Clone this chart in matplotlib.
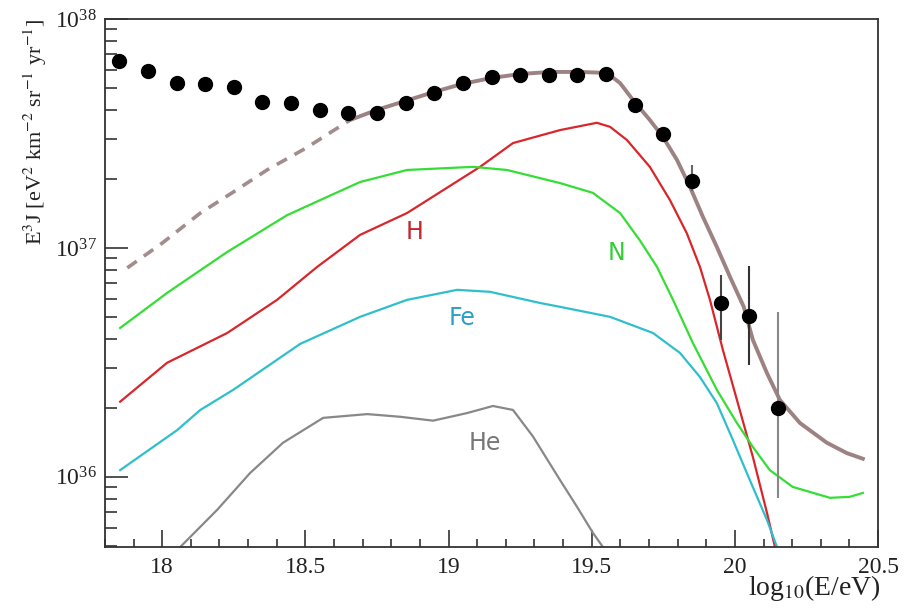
import matplotlib
matplotlib.use("Agg")
import matplotlib.pyplot as plt
import numpy as np
from matplotlib.ticker import LogLocator, NullFormatter, MultipleLocator, FixedLocator

# measured spectrum, E^3 J
data_x = [17.85, 17.95, 18.05, 18.15, 18.25, 18.35, 18.45, 18.55, 18.65, 18.75,
          18.85, 18.95, 19.05, 19.15, 19.25, 19.35, 19.45, 19.55, 19.65, 19.75,
          19.85, 19.95, 20.05, 20.15]
data_y = [6.56e37, 5.93e37, 5.26e37, 5.20e37, 5.05e37, 4.34e37, 4.30e37, 4.01e37,
          3.89e37, 3.89e37, 4.30e37, 4.75e37, 5.26e37, 5.58e37, 5.69e37, 5.69e37,
          5.69e37, 5.75e37, 4.21e37, 3.15e37, 1.96e37, 5.75e36, 5.05e36, 2.0e36]

# error bars (only the last points)
err_x = [19.85, 19.95, 20.05, 20.15]
err_lo = [1.77e37, 3.96e36, 3.08e36, 8.1e35]
err_hi = [2.30e37, 7.62e36, 8.34e36, 5.26e36]

# total model, extrapolated part (dashed)
tot_low_x = [17.878, 18.0, 18.133, 18.25, 18.366, 18.5, 18.656]
tot_low_y = [8.18e36, 1.05e37, 1.42e37, 1.76e37, 2.19e37, 2.72e37, 3.62e37]

# total model, fitted part
tot_x = [18.656, 18.75, 18.848, 18.949, 19.047, 19.148, 19.25, 19.354, 19.459,
         19.553, 19.599, 19.644, 19.703, 19.749, 19.798, 19.843, 19.888, 19.937,
         19.983, 20.031, 20.063, 20.112, 20.157, 20.227, 20.321, 20.391, 20.447]
tot_y = [3.62e37, 4.01e37, 4.38e37, 4.80e37, 5.20e37, 5.52e37, 5.75e37, 5.87e37,
         5.87e37, 5.81e37, 5.25e37, 4.43e37, 3.62e37, 3.05e37, 2.42e37, 1.85e37,
         1.37e37, 1.01e37, 7.47e36, 5.53e36, 3.96e36, 2.84e36, 2.17e36, 1.72e36,
         1.41e36, 1.27e36, 1.20e36]

# proton
h_x = [17.853, 18.017, 18.227, 18.401, 18.541, 18.691, 18.855, 19.11, 19.225,
       19.389, 19.518, 19.564, 19.623, 19.703, 19.773, 19.832, 19.878, 19.913,
       19.958, 20.017, 20.063, 20.112, 20.14, 20.17]
h_y = [2.13e36, 3.15e36, 4.25e36, 5.93e36, 8.26e36, 1.14e37, 1.42e37, 2.26e37,
       2.87e37, 3.27e37, 3.52e37, 3.38e37, 2.96e37, 2.26e37, 1.62e37, 1.16e37,
       8.26e36, 5.93e36, 3.59e36, 1.96e36, 1.22e36, 6.97e35, 4.94e35, 3.4e35]

# nitrogen
n_x = [17.853, 18.017, 18.227, 18.436, 18.576, 18.691, 18.855, 19.086, 19.204,
       19.389, 19.504, 19.599, 19.668, 19.728, 19.784, 19.853, 19.937, 20.007,
       20.063, 20.122, 20.202, 20.332, 20.401, 20.447]
n_y = [4.47e36, 6.36e36, 9.6e36, 1.39e37, 1.67e37, 1.94e37, 2.19e37, 2.26e37,
       2.19e37, 1.92e37, 1.74e37, 1.42e37, 1.08e37, 8.26e36, 5.93e36, 3.85e36,
       2.40e36, 1.72e36, 1.35e36, 1.07e36, 9.04e35, 8.1e35, 8.18e35, 8.51e35]

# iron
fe_x = [17.853, 18.052, 18.133, 18.248, 18.482, 18.691, 18.855, 19.03, 19.145,
        19.319, 19.389, 19.564, 19.714, 19.808, 19.878, 19.937, 19.993, 20.052,
        20.112, 20.147, 20.18]
fe_y = [1.07e36, 1.60e36, 1.96e36, 2.40e36, 3.81e36, 5.0e36, 5.93e36, 6.56e36,
        6.43e36, 5.75e36, 5.53e36, 5.0e36, 4.25e36, 3.48e36, 2.73e36, 2.10e36,
        1.45e36, 9.7e35, 6.49e35, 4.94e35, 3.6e35]

# helium
he_x = [18.01, 18.063, 18.192, 18.307, 18.422, 18.562, 18.716, 18.831, 18.946,
        19.065, 19.155, 19.225, 19.295, 19.389, 19.449, 19.504, 19.539, 19.58]
he_y = [3.73e35, 4.94e35, 7.18e35, 1.04e36, 1.41e36, 1.81e36, 1.88e36, 1.83e36,
        1.76e36, 1.90e36, 2.04e36, 1.96e36, 1.50e36, 9.7e35, 7.39e35, 5.70e35,
        4.94e35, 3.9e35]

plt.rcParams["font.family"] = ["Liberation Serif", "DejaVu Serif"]
plt.rcParams["mathtext.fontset"] = "stix"

fig = plt.figure(figsize=(9.08, 6.10), dpi=100)
ax = fig.add_axes([0.1156, 0.1033, 0.8514, 0.8656])
ax.set_yscale("log")

ax.plot(tot_low_x, tot_low_y, color="#a38c8e", lw=2.6, ls=(0, (3.2, 2.4)), zorder=2)
ax.plot(tot_x, tot_y, color="#9c8283", lw=2.8, zorder=2, solid_joinstyle="round")
for xs, ys, c in [(h_x, h_y, "#d8262b"), (n_x, n_y, "#35dd35"),
                  (fe_x, fe_y, "#2fbfcc"), (he_x, he_y, "#888888")]:
    ax.plot(xs, ys, color=c, lw=1.6, zorder=2, solid_joinstyle="round")

ax.vlines(err_x, err_lo, err_hi, colors=["#666666", "#444444", "#333333", "#888888"],
          lw=1.5, zorder=3)
ax.plot(data_x, data_y, "o", color="black", ms=10, zorder=4)

lab = dict(fontsize=17, family="DejaVu Sans", ha="center", va="center")
ax.text(18.883, 1.17e37, "H", color="#c2272d", **lab)
ax.text(19.588, 9.5e36, "N", color="#33cc33", **lab)
ax.text(19.047, 4.95e36, "Fe", color="#2aa0c8", **lab)
ax.text(19.127, 1.41e36, "He", color="#777777", **lab)

ax.set_xlim(17.8, 20.5)
ax.set_ylim(4.94e35, 1e38)

ax.xaxis.set_major_locator(FixedLocator([18, 18.5, 19, 19.5, 20, 20.5]))
ax.xaxis.set_minor_locator(MultipleLocator(0.1))
ax.set_xticklabels(["18", "18.5", "19", "19.5", "20", "20.5"])
ax.yaxis.set_major_locator(LogLocator(base=10))
ax.yaxis.set_minor_locator(LogLocator(base=10, subs=np.arange(2, 10)))
ax.yaxis.set_minor_formatter(NullFormatter())

ax.tick_params(axis="both", which="both", direction="in", colors="#333333",
               labelcolor="#222222", labelsize=17, width=1.2)
ax.tick_params(axis="y", which="major", length=16.5, pad=6)
ax.tick_params(axis="y", which="minor", length=8.5)
ax.tick_params(axis="x", which="major", length=12, pad=7)
ax.tick_params(axis="x", which="minor", length=6)
for s in ax.spines.values():
    s.set_color("#333333")
    s.set_linewidth(1.3)

ax.set_ylabel(r"E$^{3}$J [eV$^{2}$ km$^{-2}$ sr$^{-1}$ yr$^{-1}$]", fontsize=16,
              loc="top", color="#222222")
ax.yaxis.set_label_coords(-0.072, 1.0)
ax.text(1.003, -0.05, r"log$_{10}$(E/eV)", transform=ax.transAxes, ha="right",
        va="top", fontsize=20, color="#222222")

fig.savefig("out.png", dpi=100)
